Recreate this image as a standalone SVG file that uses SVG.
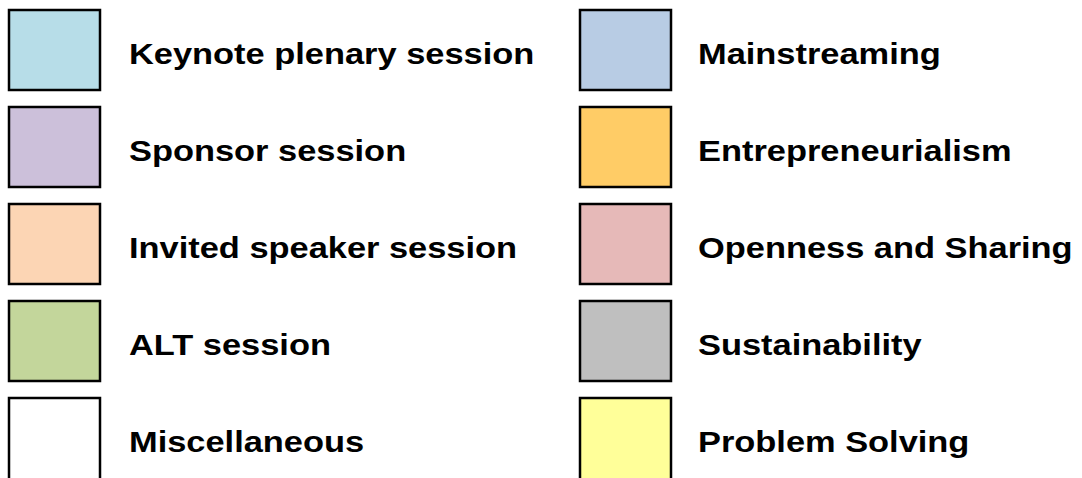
<svg xmlns="http://www.w3.org/2000/svg" width="1082" height="478" viewBox="0 0 1082 478">
<style>
.sw{stroke:#000;stroke-width:2.5}
.lb{font-family:"Liberation Sans",Arial,sans-serif;font-weight:bold;font-size:30px;fill:#000}
</style>
<rect width="1082" height="478" fill="#fff"/>
<g id="keynote"><rect class="sw" x="9" y="10" width="91" height="80" fill="#B7DDE8"/><text class="lb" transform="translate(129 63.5) scale(1.147 1)">Keynote plenary session</text></g>
<g id="sponsor"><rect class="sw" x="9" y="107" width="91" height="80" fill="#CCC0DA"/><text class="lb" transform="translate(129 160.5) scale(1.147 1)">Sponsor session</text></g>
<g id="invited"><rect class="sw" x="9" y="204" width="91" height="80" fill="#FCD5B4"/><text class="lb" transform="translate(129 257.5) scale(1.147 1)">Invited speaker session</text></g>
<g id="alt"><rect class="sw" x="9" y="301" width="91" height="80" fill="#C3D69B"/><text class="lb" transform="translate(129 354.5) scale(1.147 1)">ALT session</text></g>
<g id="misc"><rect class="sw" x="9" y="398" width="91" height="90" fill="#FFFFFF"/><text class="lb" transform="translate(129 451.5) scale(1.147 1)">Miscellaneous</text></g>
<g id="mainstreaming"><rect class="sw" x="580" y="10" width="91" height="80" fill="#B8CCE4"/><text class="lb" transform="translate(698 63.5) scale(1.147 1)">Mainstreaming</text></g>
<g id="entrepreneurialism"><rect class="sw" x="580" y="107" width="91" height="80" fill="#FFCC66"/><text class="lb" transform="translate(698 160.5) scale(1.147 1)">Entrepreneurialism</text></g>
<g id="openness"><rect class="sw" x="580" y="204" width="91" height="80" fill="#E6B9B8"/><text class="lb" transform="translate(698 257.5) scale(1.147 1)">Openness and Sharing</text></g>
<g id="sustainability"><rect class="sw" x="580" y="301" width="91" height="80" fill="#BFBFBF"/><text class="lb" transform="translate(698 354.5) scale(1.147 1)">Sustainability</text></g>
<g id="problem"><rect class="sw" x="580" y="398" width="91" height="90" fill="#FFFF99"/><text class="lb" transform="translate(698 451.5) scale(1.147 1)">Problem Solving</text></g>
<g id="connectors"/>
</svg>
